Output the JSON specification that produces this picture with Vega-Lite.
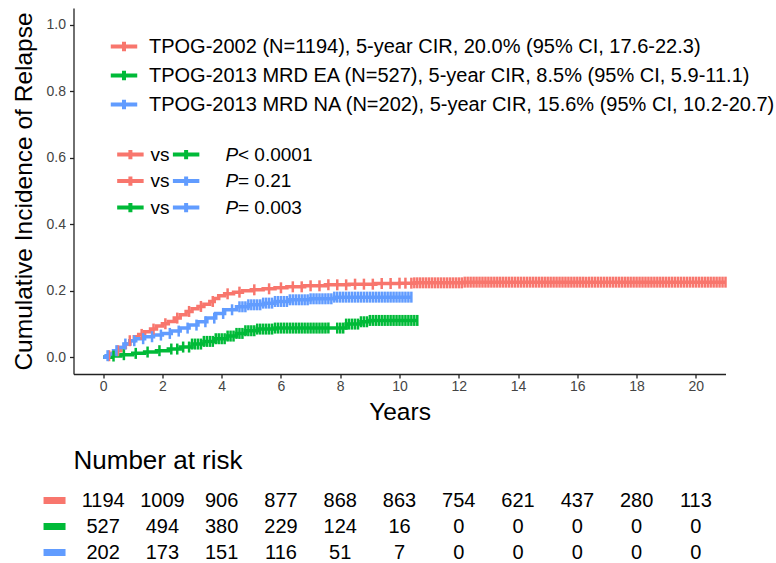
{
  "$schema": "https://vega.github.io/schema/vega-lite/v6.json",
  "padding": {"left": 10.5, "top": 8, "right": 5, "bottom": 0},
  "background": "white",
  "config": {
    "view": {"stroke": null},
    "font": "Liberation Sans",
    "axis": {"grid": false, "domainColor": "#222", "tickColor": "#222", "domainWidth": 1.3, "tickWidth": 1.3, "tickSize": 4, "labelColor": "#444", "labelFont": "Liberation Sans", "titleFont": "Liberation Sans", "titleFontWeight": "normal", "titleColor": "black"}
  },
  "datasets": {
    "steps": [
      {"g":"TPOG-2002","t":0,"y":0},{"g":"TPOG-2002","t":0.15,"y":0.005},{"g":"TPOG-2002","t":0.3,"y":0.012},{"g":"TPOG-2002","t":0.45,"y":0.02},{"g":"TPOG-2002","t":0.6,"y":0.03},{"g":"TPOG-2002","t":0.75,"y":0.04},{"g":"TPOG-2002","t":0.9,"y":0.05},{"g":"TPOG-2002","t":1.05,"y":0.062},{"g":"TPOG-2002","t":1.2,"y":0.069},{"g":"TPOG-2002","t":1.4,"y":0.077},{"g":"TPOG-2002","t":1.6,"y":0.085},{"g":"TPOG-2002","t":1.8,"y":0.094},{"g":"TPOG-2002","t":2.0,"y":0.101},{"g":"TPOG-2002","t":2.2,"y":0.108},{"g":"TPOG-2002","t":2.4,"y":0.118},{"g":"TPOG-2002","t":2.6,"y":0.128},{"g":"TPOG-2002","t":2.8,"y":0.138},{"g":"TPOG-2002","t":3.0,"y":0.146},{"g":"TPOG-2002","t":3.2,"y":0.153},{"g":"TPOG-2002","t":3.4,"y":0.16},{"g":"TPOG-2002","t":3.6,"y":0.168},{"g":"TPOG-2002","t":3.75,"y":0.177},{"g":"TPOG-2002","t":3.9,"y":0.185},{"g":"TPOG-2002","t":4.1,"y":0.191},{"g":"TPOG-2002","t":4.4,"y":0.196},{"g":"TPOG-2002","t":4.7,"y":0.2},{"g":"TPOG-2002","t":5.0,"y":0.203},{"g":"TPOG-2002","t":5.4,"y":0.206},{"g":"TPOG-2002","t":5.8,"y":0.209},{"g":"TPOG-2002","t":6.2,"y":0.212},{"g":"TPOG-2002","t":6.8,"y":0.215},{"g":"TPOG-2002","t":7.5,"y":0.218},{"g":"TPOG-2002","t":8.3,"y":0.22},{"g":"TPOG-2002","t":9.2,"y":0.222},{"g":"TPOG-2002","t":10.0,"y":0.223},{"g":"TPOG-2002","t":10.5,"y":0.224},{"g":"TPOG-2002","t":12.2,"y":0.226},{"g":"TPOG-2002","t":21.0,"y":0.226},
      {"g":"TPOG-2013 MRD EA","t":0,"y":0},{"g":"TPOG-2013 MRD EA","t":0.3,"y":0.004},{"g":"TPOG-2013 MRD EA","t":0.6,"y":0.008},{"g":"TPOG-2013 MRD EA","t":1.0,"y":0.012},{"g":"TPOG-2013 MRD EA","t":1.4,"y":0.016},{"g":"TPOG-2013 MRD EA","t":1.8,"y":0.02},{"g":"TPOG-2013 MRD EA","t":2.2,"y":0.025},{"g":"TPOG-2013 MRD EA","t":2.6,"y":0.031},{"g":"TPOG-2013 MRD EA","t":3.0,"y":0.04},{"g":"TPOG-2013 MRD EA","t":3.4,"y":0.048},{"g":"TPOG-2013 MRD EA","t":3.8,"y":0.056},{"g":"TPOG-2013 MRD EA","t":4.2,"y":0.064},{"g":"TPOG-2013 MRD EA","t":4.5,"y":0.072},{"g":"TPOG-2013 MRD EA","t":4.8,"y":0.08},{"g":"TPOG-2013 MRD EA","t":5.2,"y":0.085},{"g":"TPOG-2013 MRD EA","t":5.8,"y":0.088},{"g":"TPOG-2013 MRD EA","t":8.2,"y":0.1},{"g":"TPOG-2013 MRD EA","t":8.7,"y":0.107},{"g":"TPOG-2013 MRD EA","t":9.0,"y":0.111},{"g":"TPOG-2013 MRD EA","t":10.6,"y":0.111},
      {"g":"TPOG-2013 MRD NA","t":0,"y":0},{"g":"TPOG-2013 MRD NA","t":0.1,"y":0.005},{"g":"TPOG-2013 MRD NA","t":0.2,"y":0.01},{"g":"TPOG-2013 MRD NA","t":0.35,"y":0.02},{"g":"TPOG-2013 MRD NA","t":0.5,"y":0.03},{"g":"TPOG-2013 MRD NA","t":0.7,"y":0.04},{"g":"TPOG-2013 MRD NA","t":0.9,"y":0.05},{"g":"TPOG-2013 MRD NA","t":1.1,"y":0.056},{"g":"TPOG-2013 MRD NA","t":1.4,"y":0.062},{"g":"TPOG-2013 MRD NA","t":1.7,"y":0.067},{"g":"TPOG-2013 MRD NA","t":2.0,"y":0.072},{"g":"TPOG-2013 MRD NA","t":2.3,"y":0.079},{"g":"TPOG-2013 MRD NA","t":2.6,"y":0.088},{"g":"TPOG-2013 MRD NA","t":2.9,"y":0.097},{"g":"TPOG-2013 MRD NA","t":3.2,"y":0.107},{"g":"TPOG-2013 MRD NA","t":3.5,"y":0.118},{"g":"TPOG-2013 MRD NA","t":3.8,"y":0.132},{"g":"TPOG-2013 MRD NA","t":4.1,"y":0.143},{"g":"TPOG-2013 MRD NA","t":4.5,"y":0.152},{"g":"TPOG-2013 MRD NA","t":4.9,"y":0.158},{"g":"TPOG-2013 MRD NA","t":5.4,"y":0.163},{"g":"TPOG-2013 MRD NA","t":5.8,"y":0.168},{"g":"TPOG-2013 MRD NA","t":6.3,"y":0.173},{"g":"TPOG-2013 MRD NA","t":7.0,"y":0.176},{"g":"TPOG-2013 MRD NA","t":7.8,"y":0.181},{"g":"TPOG-2013 MRD NA","t":10.4,"y":0.181}
    ],
    "censor": [
      {"g":"TPOG-2002","t":0.2,"y":0.005},{"g":"TPOG-2002","t":0.5,"y":0.02},{"g":"TPOG-2002","t":0.9,"y":0.05},{"g":"TPOG-2002","t":1.3,"y":0.069},{"g":"TPOG-2002","t":1.7,"y":0.085},{"g":"TPOG-2002","t":2.1,"y":0.101},{"g":"TPOG-2002","t":2.5,"y":0.118},{"g":"TPOG-2002","t":2.9,"y":0.138},{"g":"TPOG-2002","t":3.3,"y":0.153},{"g":"TPOG-2002","t":3.7,"y":0.168},{"g":"TPOG-2002","t":4.2,"y":0.191},{"g":"TPOG-2002","t":4.6,"y":0.196},{"g":"TPOG-2002","t":5.1,"y":0.203},{"g":"TPOG-2002","t":5.6,"y":0.206},{"g":"TPOG-2002","t":6.0,"y":0.209},{"g":"TPOG-2002","t":6.4,"y":0.212},{"g":"TPOG-2002","t":6.7,"y":0.212},{"g":"TPOG-2002","t":7.0,"y":0.215},{"g":"TPOG-2002","t":7.3,"y":0.215},{"g":"TPOG-2002","t":7.6,"y":0.218},{"g":"TPOG-2002","t":7.9,"y":0.218},{"g":"TPOG-2002","t":8.2,"y":0.218},{"g":"TPOG-2002","t":8.5,"y":0.22},{"g":"TPOG-2002","t":8.8,"y":0.22},{"g":"TPOG-2002","t":9.1,"y":0.22},{"g":"TPOG-2002","t":9.4,"y":0.222},{"g":"TPOG-2002","t":9.7,"y":0.222},{"g":"TPOG-2002","t":10.0,"y":0.223},{"g":"TPOG-2002","t":10.2,"y":0.223},{"g":"TPOG-2002","t":10.4,"y":0.223},
      {"g":"TPOG-2002","t":10.5,"y":0.224},{"g":"TPOG-2002","t":10.6,"y":0.224},{"g":"TPOG-2002","t":10.7,"y":0.224},{"g":"TPOG-2002","t":10.8,"y":0.224},{"g":"TPOG-2002","t":10.9,"y":0.224},{"g":"TPOG-2002","t":11.0,"y":0.224},{"g":"TPOG-2002","t":11.1,"y":0.224},{"g":"TPOG-2002","t":11.2,"y":0.224},{"g":"TPOG-2002","t":11.3,"y":0.224},{"g":"TPOG-2002","t":11.4,"y":0.224},{"g":"TPOG-2002","t":11.5,"y":0.224},{"g":"TPOG-2002","t":11.6,"y":0.224},{"g":"TPOG-2002","t":11.7,"y":0.224},{"g":"TPOG-2002","t":11.8,"y":0.224},{"g":"TPOG-2002","t":11.9,"y":0.224},{"g":"TPOG-2002","t":12.0,"y":0.224},{"g":"TPOG-2002","t":12.1,"y":0.224},
      {"g":"TPOG-2002","t":12.2,"y":0.226},{"g":"TPOG-2002","t":12.3,"y":0.226},{"g":"TPOG-2002","t":12.4,"y":0.226},{"g":"TPOG-2002","t":12.5,"y":0.226},{"g":"TPOG-2002","t":12.6,"y":0.226},{"g":"TPOG-2002","t":12.7,"y":0.226},{"g":"TPOG-2002","t":12.8,"y":0.226},{"g":"TPOG-2002","t":12.9,"y":0.226},{"g":"TPOG-2002","t":13.0,"y":0.226},{"g":"TPOG-2002","t":13.1,"y":0.226},{"g":"TPOG-2002","t":13.2,"y":0.226},{"g":"TPOG-2002","t":13.3,"y":0.226},{"g":"TPOG-2002","t":13.4,"y":0.226},{"g":"TPOG-2002","t":13.5,"y":0.226},{"g":"TPOG-2002","t":13.6,"y":0.226},{"g":"TPOG-2002","t":13.7,"y":0.226},{"g":"TPOG-2002","t":13.8,"y":0.226},{"g":"TPOG-2002","t":13.9,"y":0.226},{"g":"TPOG-2002","t":14.0,"y":0.226},{"g":"TPOG-2002","t":14.1,"y":0.226},{"g":"TPOG-2002","t":14.2,"y":0.226},{"g":"TPOG-2002","t":14.3,"y":0.226},{"g":"TPOG-2002","t":14.4,"y":0.226},{"g":"TPOG-2002","t":14.5,"y":0.226},{"g":"TPOG-2002","t":14.6,"y":0.226},{"g":"TPOG-2002","t":14.7,"y":0.226},{"g":"TPOG-2002","t":14.8,"y":0.226},{"g":"TPOG-2002","t":14.9,"y":0.226},{"g":"TPOG-2002","t":15.0,"y":0.226},{"g":"TPOG-2002","t":15.1,"y":0.226},{"g":"TPOG-2002","t":15.2,"y":0.226},{"g":"TPOG-2002","t":15.3,"y":0.226},{"g":"TPOG-2002","t":15.4,"y":0.226},{"g":"TPOG-2002","t":15.5,"y":0.226},{"g":"TPOG-2002","t":15.6,"y":0.226},{"g":"TPOG-2002","t":15.7,"y":0.226},{"g":"TPOG-2002","t":15.8,"y":0.226},{"g":"TPOG-2002","t":15.9,"y":0.226},{"g":"TPOG-2002","t":16.0,"y":0.226},{"g":"TPOG-2002","t":16.1,"y":0.226},{"g":"TPOG-2002","t":16.2,"y":0.226},{"g":"TPOG-2002","t":16.3,"y":0.226},{"g":"TPOG-2002","t":16.4,"y":0.226},{"g":"TPOG-2002","t":16.5,"y":0.226},{"g":"TPOG-2002","t":16.6,"y":0.226},{"g":"TPOG-2002","t":16.7,"y":0.226},{"g":"TPOG-2002","t":16.8,"y":0.226},{"g":"TPOG-2002","t":16.9,"y":0.226},{"g":"TPOG-2002","t":17.0,"y":0.226},{"g":"TPOG-2002","t":17.1,"y":0.226},{"g":"TPOG-2002","t":17.2,"y":0.226},{"g":"TPOG-2002","t":17.3,"y":0.226},{"g":"TPOG-2002","t":17.4,"y":0.226},{"g":"TPOG-2002","t":17.5,"y":0.226},{"g":"TPOG-2002","t":17.6,"y":0.226},{"g":"TPOG-2002","t":17.7,"y":0.226},{"g":"TPOG-2002","t":17.8,"y":0.226},{"g":"TPOG-2002","t":17.9,"y":0.226},{"g":"TPOG-2002","t":18.0,"y":0.226},{"g":"TPOG-2002","t":18.1,"y":0.226},{"g":"TPOG-2002","t":18.2,"y":0.226},{"g":"TPOG-2002","t":18.3,"y":0.226},{"g":"TPOG-2002","t":18.4,"y":0.226},{"g":"TPOG-2002","t":18.5,"y":0.226},{"g":"TPOG-2002","t":18.6,"y":0.226},{"g":"TPOG-2002","t":18.7,"y":0.226},{"g":"TPOG-2002","t":18.8,"y":0.226},{"g":"TPOG-2002","t":18.9,"y":0.226},{"g":"TPOG-2002","t":19.0,"y":0.226},{"g":"TPOG-2002","t":19.1,"y":0.226},{"g":"TPOG-2002","t":19.2,"y":0.226},{"g":"TPOG-2002","t":19.3,"y":0.226},{"g":"TPOG-2002","t":19.4,"y":0.226},{"g":"TPOG-2002","t":19.5,"y":0.226},{"g":"TPOG-2002","t":19.6,"y":0.226},{"g":"TPOG-2002","t":19.7,"y":0.226},{"g":"TPOG-2002","t":19.8,"y":0.226},{"g":"TPOG-2002","t":19.9,"y":0.226},{"g":"TPOG-2002","t":20.0,"y":0.226},{"g":"TPOG-2002","t":20.1,"y":0.226},{"g":"TPOG-2002","t":20.2,"y":0.226},{"g":"TPOG-2002","t":20.3,"y":0.226},{"g":"TPOG-2002","t":20.4,"y":0.226},{"g":"TPOG-2002","t":20.5,"y":0.226},{"g":"TPOG-2002","t":20.6,"y":0.226},{"g":"TPOG-2002","t":20.7,"y":0.226},{"g":"TPOG-2002","t":20.8,"y":0.226},{"g":"TPOG-2002","t":20.9,"y":0.226},{"g":"TPOG-2002","t":21.0,"y":0.226},
      {"g":"TPOG-2013 MRD EA","t":0.35,"y":0.004},{"g":"TPOG-2013 MRD EA","t":0.7,"y":0.008},{"g":"TPOG-2013 MRD EA","t":1.1,"y":0.012},{"g":"TPOG-2013 MRD EA","t":1.5,"y":0.016},{"g":"TPOG-2013 MRD EA","t":1.9,"y":0.02},{"g":"TPOG-2013 MRD EA","t":2.3,"y":0.025},{"g":"TPOG-2013 MRD EA","t":2.5,"y":0.025},{"g":"TPOG-2013 MRD EA","t":2.7,"y":0.031},{"g":"TPOG-2013 MRD EA","t":2.9,"y":0.031},
      {"g":"TPOG-2013 MRD EA","t":3.0,"y":0.04},{"g":"TPOG-2013 MRD EA","t":3.1,"y":0.04},{"g":"TPOG-2013 MRD EA","t":3.2,"y":0.04},{"g":"TPOG-2013 MRD EA","t":3.3,"y":0.04},{"g":"TPOG-2013 MRD EA","t":3.4,"y":0.048},{"g":"TPOG-2013 MRD EA","t":3.5,"y":0.048},{"g":"TPOG-2013 MRD EA","t":3.6,"y":0.048},{"g":"TPOG-2013 MRD EA","t":3.7,"y":0.048},{"g":"TPOG-2013 MRD EA","t":3.8,"y":0.056},{"g":"TPOG-2013 MRD EA","t":3.9,"y":0.056},{"g":"TPOG-2013 MRD EA","t":4.0,"y":0.056},{"g":"TPOG-2013 MRD EA","t":4.1,"y":0.056},{"g":"TPOG-2013 MRD EA","t":4.2,"y":0.064},{"g":"TPOG-2013 MRD EA","t":4.3,"y":0.064},{"g":"TPOG-2013 MRD EA","t":4.4,"y":0.064},{"g":"TPOG-2013 MRD EA","t":4.5,"y":0.072},{"g":"TPOG-2013 MRD EA","t":4.6,"y":0.072},{"g":"TPOG-2013 MRD EA","t":4.7,"y":0.072},{"g":"TPOG-2013 MRD EA","t":4.8,"y":0.08},{"g":"TPOG-2013 MRD EA","t":4.9,"y":0.08},{"g":"TPOG-2013 MRD EA","t":5.0,"y":0.08},{"g":"TPOG-2013 MRD EA","t":5.1,"y":0.08},{"g":"TPOG-2013 MRD EA","t":5.2,"y":0.085},{"g":"TPOG-2013 MRD EA","t":5.3,"y":0.085},{"g":"TPOG-2013 MRD EA","t":5.4,"y":0.085},{"g":"TPOG-2013 MRD EA","t":5.5,"y":0.085},{"g":"TPOG-2013 MRD EA","t":5.6,"y":0.085},{"g":"TPOG-2013 MRD EA","t":5.7,"y":0.085},{"g":"TPOG-2013 MRD EA","t":5.8,"y":0.088},{"g":"TPOG-2013 MRD EA","t":5.9,"y":0.088},{"g":"TPOG-2013 MRD EA","t":6.0,"y":0.088},{"g":"TPOG-2013 MRD EA","t":6.1,"y":0.088},{"g":"TPOG-2013 MRD EA","t":6.2,"y":0.088},{"g":"TPOG-2013 MRD EA","t":6.3,"y":0.088},{"g":"TPOG-2013 MRD EA","t":6.4,"y":0.088},{"g":"TPOG-2013 MRD EA","t":6.5,"y":0.088},{"g":"TPOG-2013 MRD EA","t":6.6,"y":0.088},{"g":"TPOG-2013 MRD EA","t":6.7,"y":0.088},{"g":"TPOG-2013 MRD EA","t":6.8,"y":0.088},{"g":"TPOG-2013 MRD EA","t":6.9,"y":0.088},{"g":"TPOG-2013 MRD EA","t":7.0,"y":0.088},{"g":"TPOG-2013 MRD EA","t":7.1,"y":0.088},{"g":"TPOG-2013 MRD EA","t":7.2,"y":0.088},{"g":"TPOG-2013 MRD EA","t":7.3,"y":0.088},{"g":"TPOG-2013 MRD EA","t":7.4,"y":0.088},{"g":"TPOG-2013 MRD EA","t":7.5,"y":0.088},{"g":"TPOG-2013 MRD EA","t":7.6,"y":0.088},{"g":"TPOG-2013 MRD EA","t":7.9,"y":0.088},{"g":"TPOG-2013 MRD EA","t":8.0,"y":0.088},{"g":"TPOG-2013 MRD EA","t":8.1,"y":0.088},{"g":"TPOG-2013 MRD EA","t":8.2,"y":0.1},{"g":"TPOG-2013 MRD EA","t":8.3,"y":0.1},{"g":"TPOG-2013 MRD EA","t":8.4,"y":0.1},{"g":"TPOG-2013 MRD EA","t":8.5,"y":0.1},{"g":"TPOG-2013 MRD EA","t":8.6,"y":0.1},{"g":"TPOG-2013 MRD EA","t":8.7,"y":0.107},{"g":"TPOG-2013 MRD EA","t":8.8,"y":0.107},{"g":"TPOG-2013 MRD EA","t":8.9,"y":0.107},{"g":"TPOG-2013 MRD EA","t":9.0,"y":0.111},{"g":"TPOG-2013 MRD EA","t":9.1,"y":0.111},{"g":"TPOG-2013 MRD EA","t":9.2,"y":0.111},{"g":"TPOG-2013 MRD EA","t":9.3,"y":0.111},{"g":"TPOG-2013 MRD EA","t":9.4,"y":0.111},{"g":"TPOG-2013 MRD EA","t":9.5,"y":0.111},{"g":"TPOG-2013 MRD EA","t":9.6,"y":0.111},{"g":"TPOG-2013 MRD EA","t":9.7,"y":0.111},{"g":"TPOG-2013 MRD EA","t":9.8,"y":0.111},{"g":"TPOG-2013 MRD EA","t":9.9,"y":0.111},{"g":"TPOG-2013 MRD EA","t":10.0,"y":0.111},{"g":"TPOG-2013 MRD EA","t":10.1,"y":0.111},{"g":"TPOG-2013 MRD EA","t":10.2,"y":0.111},{"g":"TPOG-2013 MRD EA","t":10.3,"y":0.111},{"g":"TPOG-2013 MRD EA","t":10.4,"y":0.111},{"g":"TPOG-2013 MRD EA","t":10.5,"y":0.111},{"g":"TPOG-2013 MRD EA","t":10.6,"y":0.111},
      {"g":"TPOG-2013 MRD NA","t":0.15,"y":0.005},{"g":"TPOG-2013 MRD NA","t":0.45,"y":0.02},{"g":"TPOG-2013 MRD NA","t":0.75,"y":0.04},{"g":"TPOG-2013 MRD NA","t":1.05,"y":0.05},{"g":"TPOG-2013 MRD NA","t":1.35,"y":0.056},{"g":"TPOG-2013 MRD NA","t":1.65,"y":0.062},{"g":"TPOG-2013 MRD NA","t":1.95,"y":0.067},{"g":"TPOG-2013 MRD NA","t":2.25,"y":0.072},{"g":"TPOG-2013 MRD NA","t":2.55,"y":0.079},{"g":"TPOG-2013 MRD NA","t":2.85,"y":0.088},{"g":"TPOG-2013 MRD NA","t":3.15,"y":0.097},{"g":"TPOG-2013 MRD NA","t":3.45,"y":0.107},{"g":"TPOG-2013 MRD NA","t":3.75,"y":0.118},{"g":"TPOG-2013 MRD NA","t":4.05,"y":0.132},{"g":"TPOG-2013 MRD NA","t":4.35,"y":0.143},
      {"g":"TPOG-2013 MRD NA","t":4.6,"y":0.152},{"g":"TPOG-2013 MRD NA","t":4.7,"y":0.152},{"g":"TPOG-2013 MRD NA","t":4.8,"y":0.152},{"g":"TPOG-2013 MRD NA","t":4.9,"y":0.158},{"g":"TPOG-2013 MRD NA","t":5.0,"y":0.158},{"g":"TPOG-2013 MRD NA","t":5.1,"y":0.158},{"g":"TPOG-2013 MRD NA","t":5.2,"y":0.158},{"g":"TPOG-2013 MRD NA","t":5.3,"y":0.158},{"g":"TPOG-2013 MRD NA","t":5.4,"y":0.163},{"g":"TPOG-2013 MRD NA","t":5.5,"y":0.163},{"g":"TPOG-2013 MRD NA","t":5.6,"y":0.163},{"g":"TPOG-2013 MRD NA","t":5.7,"y":0.163},{"g":"TPOG-2013 MRD NA","t":5.8,"y":0.168},{"g":"TPOG-2013 MRD NA","t":5.9,"y":0.168},{"g":"TPOG-2013 MRD NA","t":6.0,"y":0.168},{"g":"TPOG-2013 MRD NA","t":6.1,"y":0.168},{"g":"TPOG-2013 MRD NA","t":6.2,"y":0.168},{"g":"TPOG-2013 MRD NA","t":6.3,"y":0.173},{"g":"TPOG-2013 MRD NA","t":6.4,"y":0.173},{"g":"TPOG-2013 MRD NA","t":6.5,"y":0.173},{"g":"TPOG-2013 MRD NA","t":6.6,"y":0.173},{"g":"TPOG-2013 MRD NA","t":6.7,"y":0.173},{"g":"TPOG-2013 MRD NA","t":6.8,"y":0.173},{"g":"TPOG-2013 MRD NA","t":6.9,"y":0.173},{"g":"TPOG-2013 MRD NA","t":7.0,"y":0.176},{"g":"TPOG-2013 MRD NA","t":7.1,"y":0.176},{"g":"TPOG-2013 MRD NA","t":7.2,"y":0.176},{"g":"TPOG-2013 MRD NA","t":7.3,"y":0.176},{"g":"TPOG-2013 MRD NA","t":7.4,"y":0.176},{"g":"TPOG-2013 MRD NA","t":7.5,"y":0.176},{"g":"TPOG-2013 MRD NA","t":7.6,"y":0.176},{"g":"TPOG-2013 MRD NA","t":7.7,"y":0.176},{"g":"TPOG-2013 MRD NA","t":7.8,"y":0.181},{"g":"TPOG-2013 MRD NA","t":7.9,"y":0.181},{"g":"TPOG-2013 MRD NA","t":8.0,"y":0.181},{"g":"TPOG-2013 MRD NA","t":8.1,"y":0.181},{"g":"TPOG-2013 MRD NA","t":8.2,"y":0.181},{"g":"TPOG-2013 MRD NA","t":8.3,"y":0.181},{"g":"TPOG-2013 MRD NA","t":8.4,"y":0.181},{"g":"TPOG-2013 MRD NA","t":8.5,"y":0.181},{"g":"TPOG-2013 MRD NA","t":8.6,"y":0.181},{"g":"TPOG-2013 MRD NA","t":8.7,"y":0.181},{"g":"TPOG-2013 MRD NA","t":8.8,"y":0.181},{"g":"TPOG-2013 MRD NA","t":8.9,"y":0.181},{"g":"TPOG-2013 MRD NA","t":9.0,"y":0.181},{"g":"TPOG-2013 MRD NA","t":9.1,"y":0.181},{"g":"TPOG-2013 MRD NA","t":9.2,"y":0.181},{"g":"TPOG-2013 MRD NA","t":9.3,"y":0.181},{"g":"TPOG-2013 MRD NA","t":9.4,"y":0.181},{"g":"TPOG-2013 MRD NA","t":9.5,"y":0.181},{"g":"TPOG-2013 MRD NA","t":9.6,"y":0.181},{"g":"TPOG-2013 MRD NA","t":9.7,"y":0.181},{"g":"TPOG-2013 MRD NA","t":9.8,"y":0.181},{"g":"TPOG-2013 MRD NA","t":9.9,"y":0.181},{"g":"TPOG-2013 MRD NA","t":10.0,"y":0.181},{"g":"TPOG-2013 MRD NA","t":10.1,"y":0.181},{"g":"TPOG-2013 MRD NA","t":10.2,"y":0.181},{"g":"TPOG-2013 MRD NA","t":10.3,"y":0.181},{"g":"TPOG-2013 MRD NA","t":10.4,"y":0.181}
    ],
    "pvals": [
      {"row": 1, "a": "TPOG-2002", "b": "TPOG-2013 MRD EA", "p": "< 0.0001"},
      {"row": 2, "a": "TPOG-2002", "b": "TPOG-2013 MRD NA", "p": "= 0.21"},
      {"row": 3, "a": "TPOG-2013 MRD EA", "b": "TPOG-2013 MRD NA", "p": "= 0.003"}
    ],
    "risk": [
      {"g":"TPOG-2002","t":0,"n":1194},{"g":"TPOG-2002","t":2,"n":1009},{"g":"TPOG-2002","t":4,"n":906},{"g":"TPOG-2002","t":6,"n":877},{"g":"TPOG-2002","t":8,"n":868},{"g":"TPOG-2002","t":10,"n":863},{"g":"TPOG-2002","t":12,"n":754},{"g":"TPOG-2002","t":14,"n":621},{"g":"TPOG-2002","t":16,"n":437},{"g":"TPOG-2002","t":18,"n":280},{"g":"TPOG-2002","t":20,"n":113},
      {"g":"TPOG-2013 MRD EA","t":0,"n":527},{"g":"TPOG-2013 MRD EA","t":2,"n":494},{"g":"TPOG-2013 MRD EA","t":4,"n":380},{"g":"TPOG-2013 MRD EA","t":6,"n":229},{"g":"TPOG-2013 MRD EA","t":8,"n":124},{"g":"TPOG-2013 MRD EA","t":10,"n":16},{"g":"TPOG-2013 MRD EA","t":12,"n":0},{"g":"TPOG-2013 MRD EA","t":14,"n":0},{"g":"TPOG-2013 MRD EA","t":16,"n":0},{"g":"TPOG-2013 MRD EA","t":18,"n":0},{"g":"TPOG-2013 MRD EA","t":20,"n":0},
      {"g":"TPOG-2013 MRD NA","t":0,"n":202},{"g":"TPOG-2013 MRD NA","t":2,"n":173},{"g":"TPOG-2013 MRD NA","t":4,"n":151},{"g":"TPOG-2013 MRD NA","t":6,"n":116},{"g":"TPOG-2013 MRD NA","t":8,"n":51},{"g":"TPOG-2013 MRD NA","t":10,"n":7},{"g":"TPOG-2013 MRD NA","t":12,"n":0},{"g":"TPOG-2013 MRD NA","t":14,"n":0},{"g":"TPOG-2013 MRD NA","t":16,"n":0},{"g":"TPOG-2013 MRD NA","t":18,"n":0},{"g":"TPOG-2013 MRD NA","t":20,"n":0}
    ]
  },
  "spacing": 23.5,
  "resolve": {"scale": {"color": "independent", "x": "independent", "y": "independent"}, "legend": {"color": "independent"}},
  "vconcat": [
    {
      "width": 652,
      "height": 366,
      "resolve": {"scale": {"y": "independent"}},
      "layer": [
        {
          "layer": [
            {
              "data": {"name": "steps"},
              "mark": {"type": "line", "interpolate": "step-after", "strokeWidth": 3.5},
              "encoding": {
                "x": {"field": "t", "type": "quantitative", "scale": {"domain": [-1, 21], "nice": false, "zero": false},
                      "axis": {"values": [0,2,4,6,8,10,12,14,16,18,20], "title": "Years", "titleFontSize": 24.5, "titlePadding": 7, "labelFontSize": 14, "labelPadding": 1}},
                "y": {"field": "y", "type": "quantitative", "scale": {"domain": [-0.05, 1.05], "nice": false, "zero": false},
                      "axis": {"values": [0,0.2,0.4,0.6,0.8,1.0], "format": ".1f", "title": "Cumulative Incidence of Relapse", "titleFontSize": 24.5, "titlePadding": 10, "labelFontSize": 14, "labelPadding": 4}},
                "color": {"field": "g", "type": "nominal",
                          "scale": {"domain": ["TPOG-2002", "TPOG-2013 MRD EA", "TPOG-2013 MRD NA"], "range": ["#F8766D", "#00BA38", "#619CFF"]},
                          "legend": {"orient": "none", "legendX": 35, "legendY": 23, "title": null, "padding": 0, "rowPadding": -0.5,
                                     "symbolType": "M-1,0H1M0,-0.35V0.35", "symbolSize": 700, "symbolStrokeWidth": 4, "symbolFillColor": "transparent", "symbolOpacity": 1,
                                     "labelFontSize": 20, "labelFont": "Liberation Sans", "labelColor": "black", "labelLimit": 700, "labelOffset": 9.5,
                                     "labelExpr": "datum.value == 'TPOG-2002' ? 'TPOG-2002 (N=1194), 5-year CIR, 20.0% (95% CI, 17.6-22.3)' : datum.value == 'TPOG-2013 MRD EA' ? 'TPOG-2013 MRD EA (N=527), 5-year CIR, 8.5% (95% CI, 5.9-11.1)' : 'TPOG-2013 MRD NA (N=202), 5-year CIR, 15.6% (95% CI, 10.2-20.7)'"}}
              }
            },
            {
              "data": {"name": "censor"},
              "mark": {"type": "tick", "orient": "vertical", "size": 11, "thickness": 2.5, "opacity": 1},
              "encoding": {
                "x": {"field": "t", "type": "quantitative"},
                "y": {"field": "y", "type": "quantitative"},
                "color": {"field": "g", "type": "nominal"}
              }
            }
          ]
        },
        {
          "data": {"name": "pvals"},
          "encoding": {
            "y": {"field": "row", "type": "ordinal", "scale": {"type": "point", "padding": 0, "range": [146.6, 199.6]}, "axis": null}
          },
          "layer": [
            {
              "mark": {"type": "point", "shape": "M-1,0H1M0,-0.35V0.35", "filled": false, "size": 700, "strokeWidth": 4, "opacity": 1},
              "encoding": {"x": {"datum": 0.92, "type": "quantitative"}, "color": {"field": "a", "type": "nominal"}}
            },
            {
              "mark": {"type": "text", "text": "vs", "align": "left", "baseline": "middle", "fontSize": 19, "color": "black"},
              "encoding": {"x": {"datum": 1.6, "type": "quantitative"}}
            },
            {
              "mark": {"type": "point", "shape": "M-1,0H1M0,-0.35V0.35", "filled": false, "size": 700, "strokeWidth": 4, "opacity": 1},
              "encoding": {"x": {"datum": 2.8, "type": "quantitative"}, "color": {"field": "b", "type": "nominal"}}
            },
            {
              "mark": {"type": "text", "text": "P", "align": "left", "baseline": "middle", "fontSize": 19, "fontStyle": "italic", "color": "black"},
              "encoding": {"x": {"datum": 4.13, "type": "quantitative"}}
            },
            {
              "mark": {"type": "text", "align": "left", "baseline": "middle", "fontSize": 19, "color": "black"},
              "encoding": {"x": {"datum": 4.55, "type": "quantitative"}, "text": {"field": "p"}}
            }
          ]
        }
      ]
    },
    {
      "width": 652,
      "height": 52,
      "title": {"text": "Number at risk", "anchor": "start", "frame": "group", "fontSize": 26, "fontWeight": "normal", "font": "Liberation Sans", "color": "black", "offset": 17},
      "data": {"name": "risk"},
      "layer": [
        {
          "mark": {"type": "text", "fontSize": 20, "font": "Liberation Sans", "color": "black", "baseline": "middle", "align": "center"},
          "encoding": {
            "x": {"field": "t", "type": "quantitative", "scale": {"domain": [-1, 21], "nice": false, "zero": false}, "axis": null},
            "y": {"field": "g", "type": "ordinal", "scale": {"type": "point", "padding": 0, "domain": ["TPOG-2002", "TPOG-2013 MRD EA", "TPOG-2013 MRD NA"]}, "axis": null},
            "text": {"field": "n", "type": "quantitative"}
          }
        },
        {
          "transform": [{"filter": "datum.t == 0"}],
          "mark": {"type": "tick", "orient": "horizontal", "size": 22, "thickness": 7, "opacity": 1},
          "encoding": {
            "x": {"datum": -1.64, "type": "quantitative"},
            "y": {"field": "g", "type": "ordinal"},
            "color": {"field": "g", "type": "nominal", "scale": {"domain": ["TPOG-2002", "TPOG-2013 MRD EA", "TPOG-2013 MRD NA"], "range": ["#F8766D", "#00BA38", "#619CFF"]}, "legend": null}
          }
        }
      ]
    }
  ]
}
